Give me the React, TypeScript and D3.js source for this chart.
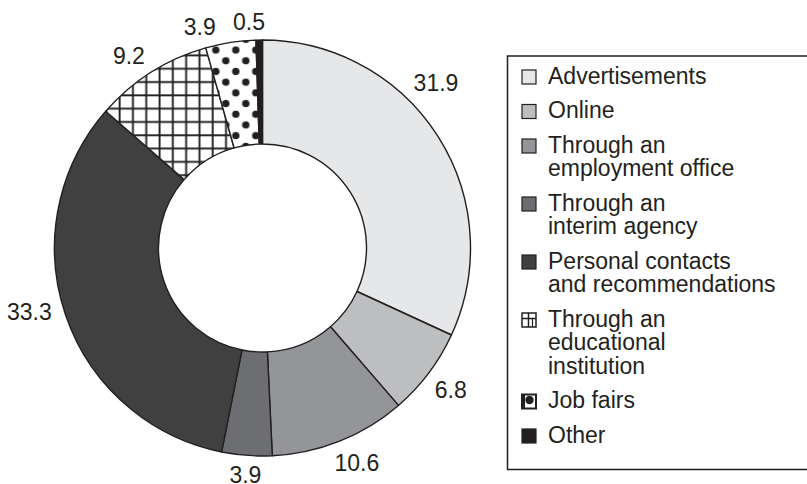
import React, { useEffect, useRef } from "react";
import * as d3 from "d3";

// Ways of finding a job (%)
const categories = [
  "Advertisements",
  "Online",
  "Through an\nemployment office",
  "Through an\ninterim agency",
  "Personal contacts\nand recommendations",
  "Through an\neducational\ninstitution",
  "Job fairs",
  "Other",
];
const values = [31.9, 6.8, 10.6, 3.9, 33.3, 9.2, 3.9, 0.5];
const valueLabels = ["31.9", "6.8", "10.6", "3.9", "33.3", "9.2", "3.9", "0.5"];

const fills = [
  "#e6e7e8",
  "#bcbec0",
  "#939598",
  "#6d6e71",
  "#404041",
  "url(#grid)",
  "url(#dots)",
  "#231f20",
];
// small angle nudges (degrees) so labels sit where the original put them
const labelNudge = [-11, 0, -2, 0, 3.5, -2.5, -7, -2.5];

const FONT = "'Liberation Sans', Arial, Helvetica, sans-serif";

const App: React.FC = () => {
  const ref = useRef<SVGSVGElement>(null);

  useEffect(() => {
    const width = 807;
    const height = 484;
    const cx = 262.5;
    const cy = 248;
    const outerR = 208;
    const innerR = 104;
    const fs = 23;

    const svg = d3.select(ref.current);
    svg.selectAll("*").remove();
    svg.attr("width", width).attr("height", height);

    // patterns
    const defs = svg.append("defs");
    const grid = defs
      .append("pattern")
      .attr("id", "grid")
      .attr("patternUnits", "userSpaceOnUse")
      .attr("width", 13.3)
      .attr("height", 13.3);
    grid.append("rect").attr("width", 13.3).attr("height", 13.3).attr("fill", "#fff");
    grid.append("rect").attr("x", 2.5).attr("width", 1.9).attr("height", 13.3).attr("fill", "#231f20");
    grid.append("rect").attr("y", 6).attr("width", 13.3).attr("height", 1.9).attr("fill", "#231f20");

    const dots = defs
      .append("pattern")
      .attr("id", "dots")
      .attr("patternUnits", "userSpaceOnUse")
      .attr("width", 20)
      .attr("height", 21.4);
    dots.append("rect").attr("width", 20).attr("height", 21.4).attr("fill", "#fff");
    dots.append("circle").attr("cx", 13.3).attr("cy", 16).attr("r", 3.7).attr("fill", "#231f20");
    dots.append("circle").attr("cx", 3.3).attr("cy", 5.3).attr("r", 3.7).attr("fill", "#231f20");
    dots.append("circle").attr("cx", 23.3).attr("cy", 5.3).attr("r", 3.7).attr("fill", "#231f20");
    dots.append("circle").attr("cx", 3.3).attr("cy", 26.7).attr("r", 3.7).attr("fill", "#231f20");
    dots.append("circle").attr("cx", -6.7).attr("cy", 5.3).attr("r", 3.7).attr("fill", "#231f20");

    const pie = d3
      .pie<number>()
      .sort(null)
      .value((d) => d);
    const arcs = pie(values);
    const arc = d3.arc<d3.PieArcDatum<number>>().innerRadius(innerR).outerRadius(outerR);

    const g = svg.append("g").attr("transform", `translate(${cx},${cy})`);
    g.selectAll("path")
      .data(arcs)
      .enter()
      .append("path")
      .attr("d", arc)
      .attr("fill", (_, i) => fills[i])
      .attr("stroke", "#231f20")
      .attr("stroke-width", 1.4)
      .attr("stroke-linejoin", "round");

    // value labels outside the ring
    const textWidth = (s: string) =>
      s.split("").reduce((w, c) => w + (c === "." ? 0.278 : 0.556), 0) * fs;
    g.selectAll("text.val")
      .data(arcs)
      .enter()
      .append("text")
      .attr("class", "val")
      .each(function (d, i) {
        const a = (d.startAngle + d.endAngle) / 2 + (labelNudge[i] * Math.PI) / 180;
        const s = Math.sin(a);
        const c = -Math.cos(a);
        const halfW = textWidth(valueLabels[i]) / 2;
        const r = outerR + 10 + 8 * Math.abs(c) + halfW * Math.abs(s);
        d3.select(this)
          .attr("x", s * r)
          .attr("y", c * r)
          .attr("dy", "0.35em");
      })
      .attr("text-anchor", "middle")
      .attr("font-family", FONT)
      .attr("font-size", fs)
      .attr("fill", "#231f20")
      .text((_, i) => valueLabels[i]);

    // legend
    const legend = svg.append("g");
    legend
      .append("rect")
      .attr("x", 507.5)
      .attr("y", 56)
      .attr("width", 320)
      .attr("height", 413.5)
      .attr("fill", "none")
      .attr("stroke", "#231f20")
      .attr("stroke-width", 1.5);

    const lineH = 23.5;
    const gap = 11;
    let baseline = 83.5;
    categories.forEach((cat, i) => {
      const lines = cat.split("\n");
      const sx = 522;
      const sy = baseline - 13.5;
      const sz = 14;
      const item = legend.append("g");
      if (i === 5) {
        item
          .append("rect")
          .attr("x", sx).attr("y", sy).attr("width", sz).attr("height", sz)
          .attr("fill", "#fff").attr("stroke", "#231f20").attr("stroke-width", 1.5);
        item.append("line")
          .attr("x1", sx).attr("x2", sx + sz).attr("y1", sy + 5.5).attr("y2", sy + 5.5)
          .attr("stroke", "#231f20").attr("stroke-width", 1.5);
        item.append("line")
          .attr("x1", sx + 6.5).attr("x2", sx + 6.5).attr("y1", sy).attr("y2", sy + sz)
          .attr("stroke", "#231f20").attr("stroke-width", 1.5);
        item.append("line")
          .attr("x1", sx + 10.5).attr("x2", sx + 10.5).attr("y1", sy + 5.5).attr("y2", sy + sz)
          .attr("stroke", "#231f20").attr("stroke-width", 1.2);
      } else if (i === 6) {
        item
          .append("rect")
          .attr("x", sx).attr("y", sy).attr("width", sz).attr("height", sz)
          .attr("fill", "#fff").attr("stroke", "#231f20").attr("stroke-width", 2);
        item.append("circle")
          .attr("cx", sx + 7.5).attr("cy", sy + 5.5).attr("r", 4.2)
          .attr("fill", "#231f20");
        item.append("rect")
          .attr("x", sx).attr("y", sy).attr("width", 3).attr("height", sz)
          .attr("fill", "#231f20");
      } else {
        item
          .append("rect")
          .attr("x", sx).attr("y", sy).attr("width", sz).attr("height", sz)
          .attr("fill", fills[i]).attr("stroke", "#231f20").attr("stroke-width", 1.2);
      }
      const t = item
        .append("text")
        .attr("font-family", FONT)
        .attr("font-size", fs)
        .attr("fill", "#231f20");
      lines.forEach((ln, j) => {
        t.append("tspan").attr("x", 548).attr("y", baseline + j * lineH).text(ln);
      });
      baseline += lines.length * lineH + gap;
    });
  }, []);

  return (
    <svg
      ref={ref}
      style={{ position: "absolute", left: 0, top: 0, background: "#fff" }}
    ></svg>
  );
};

export default App;
